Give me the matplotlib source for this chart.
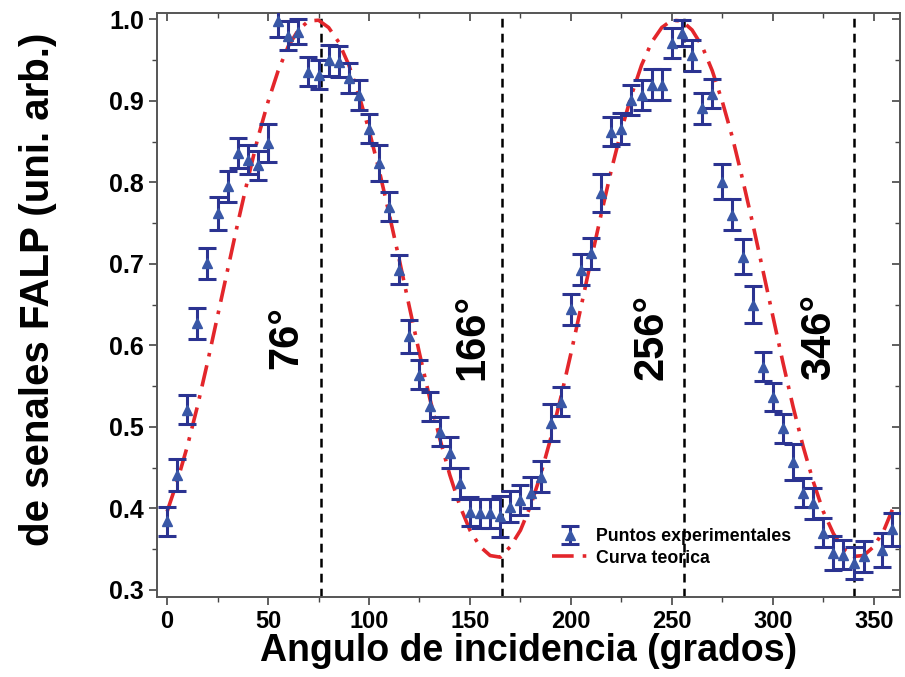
import matplotlib
matplotlib.use("Agg")
import matplotlib.pyplot as plt
from matplotlib.ticker import MultipleLocator

plt.rcParams['font.family'] = ['Liberation Sans', 'DejaVu Sans']
plt.rcParams['font.weight'] = 'bold'

# --- experimental points (angle in degrees, signal, error) ---
ang_exp = [0, 5, 10, 15, 20, 25, 30, 35, 40, 45, 50, 55, 60, 65, 70, 75,
           80, 85, 90, 95, 100, 105, 110, 115, 120, 125, 130, 135, 140, 145,
           150, 155, 160, 165, 170, 175, 180, 185, 190, 195, 200, 205, 210,
           215, 220, 225, 230, 235, 240, 245, 250, 255, 260, 265, 270, 275,
           280, 285, 290, 295, 300, 305, 310, 315, 320, 325, 330, 335, 340,
           345, 354, 359]
sig_exp = [0.384, 0.441, 0.521, 0.627, 0.701, 0.762, 0.795, 0.836, 0.828,
           0.821, 0.848, 0.998, 0.980, 0.985, 0.936, 0.932, 0.950, 0.948,
           0.928, 0.907, 0.866, 0.824, 0.770, 0.693, 0.611, 0.564, 0.525,
           0.494, 0.468, 0.431, 0.396, 0.394, 0.394, 0.390, 0.402, 0.410,
           0.419, 0.439, 0.505, 0.531, 0.644, 0.693, 0.713, 0.787, 0.862,
           0.866, 0.901, 0.907, 0.920, 0.920, 0.971, 0.983, 0.956, 0.891,
           0.909, 0.801, 0.760, 0.709, 0.650, 0.574, 0.537, 0.498, 0.457,
           0.419, 0.406, 0.370, 0.345, 0.343, 0.333, 0.341, 0.349, 0.374]
err_exp = [0.018, 0.020, 0.018, 0.019, 0.019, 0.020, 0.019, 0.018, 0.018,
           0.018, 0.023, 0.020, 0.018, 0.015, 0.018, 0.018, 0.019, 0.019,
           0.018, 0.018, 0.018, 0.022, 0.018, 0.018, 0.020, 0.018, 0.018,
           0.018, 0.019, 0.019, 0.018, 0.018, 0.018, 0.025, 0.019, 0.018,
           0.019, 0.019, 0.023, 0.018, 0.019, 0.019, 0.019, 0.023, 0.018,
           0.019, 0.018, 0.018, 0.019, 0.019, 0.019, 0.016, 0.019, 0.019,
           0.018, 0.021, 0.019, 0.021, 0.023, 0.018, 0.017, 0.018, 0.022,
           0.018, 0.019, 0.018, 0.021, 0.018, 0.020, 0.019, 0.021, 0.020]

# --- theoretical curve every 5 degrees ---
ang_teo = list(range(0, 365, 5))
sig_teo = [0.396, 0.433, 0.476, 0.525, 0.579, 0.636, 0.693, 0.750, 0.804,
           0.855, 0.899, 0.937, 0.967, 0.987, 0.998, 0.999, 0.990, 0.972,
           0.944, 0.907, 0.864, 0.815, 0.761, 0.705, 0.647, 0.590, 0.536,
           0.486, 0.441, 0.403, 0.373, 0.353, 0.342, 0.340, 0.353, 0.373,
           0.403, 0.441, 0.486, 0.536, 0.590, 0.647, 0.705, 0.761, 0.815,
           0.864, 0.907, 0.944, 0.972, 0.990, 0.999, 0.998, 0.987, 0.967,
           0.937, 0.899, 0.855, 0.804, 0.750, 0.693, 0.636, 0.579, 0.525,
           0.476, 0.433, 0.396, 0.369, 0.350, 0.341, 0.342, 0.353, 0.373,
           0.403]

# --- marked angles ---
line_pos = [76, 166, 256, 340]
ang_labels = ["76°", "166°", "256°", "346°"]
label_x = [59, 151, 240, 323]

fig = plt.figure(figsize=(9.05, 6.77), dpi=100)
ax = fig.add_axes([0.1735, 0.118, 0.821, 0.863])

ax.plot(ang_teo, sig_teo, color="#e3262b", lw=2.6,
        linestyle=(0, (6, 2.5, 1, 2.5)), label="Curva teorica", zorder=2)
ax.errorbar(ang_exp, sig_exp, yerr=err_exp, fmt="^", color="#3957a6",
            markersize=7.5, ecolor="#2b3391", elinewidth=2.2, capsize=6.5,
            capthick=2.2, label="Puntos experimentales", zorder=3)

for xp in line_pos:
    ax.axvline(xp, color="black", lw=1.8, linestyle=(0, (3.5, 2.5)), zorder=1)
for xt, txt in zip(label_x, ang_labels):
    ax.text(xt, 0.61, txt, rotation=90, ha="center", va="center",
            fontsize=30, fontweight="bold")

ax.set_xlim(-5, 363)
ax.set_ylim(0.291, 1.008)
ax.xaxis.set_major_locator(MultipleLocator(50))
ax.xaxis.set_minor_locator(MultipleLocator(25))
ax.yaxis.set_major_locator(MultipleLocator(0.1))
ax.yaxis.set_minor_locator(MultipleLocator(0.05))
ax.yaxis.set_major_formatter(plt.FormatStrFormatter("%.1f"))

ax.tick_params(axis="both", which="major", labelsize=17, length=6,
               width=1.2, color="#444444", direction="out")
ax.tick_params(axis="both", which="minor", length=3.5, width=1.0,
               color="#444444", direction="out")
ax.tick_params(axis="y", which="major", labelsize=18)
ax.tick_params(axis="both", which="both", top=True, right=True)
# top/right ticks point inward, bottom/left outward
for tl in ax.xaxis.get_ticklines(minor=False)[1::2] + ax.xaxis.get_ticklines(minor=True)[1::2]:
    tl.set_marker(3)
for tl in ax.yaxis.get_ticklines(minor=False)[1::2] + ax.yaxis.get_ticklines(minor=True)[1::2]:
    tl.set_marker(0)
for lab in ax.get_xticklabels() + ax.get_yticklabels():
    lab.set_fontweight("bold")
for sp in ax.spines.values():
    sp.set_color("#555555")
    sp.set_linewidth(1.4)

ax.set_xlabel("Angulo de incidencia (grados)", fontsize=27, fontweight="bold",
              labelpad=0)
ax.set_ylabel("de senales FALP (uni. arb.)", fontsize=29, fontweight="bold")
ax.yaxis.set_label_coords(-0.135, 0.527)

h, l = ax.get_legend_handles_labels()
ax.legend(h[::-1], l[::-1], loc="lower left", bbox_to_anchor=(0.51, 0.025),
          frameon=False, prop={"size": 12.8, "weight": "bold"},
          handlelength=2.0, handletextpad=0.5, labelspacing=0.25)

fig.savefig("out.png", dpi=100)
